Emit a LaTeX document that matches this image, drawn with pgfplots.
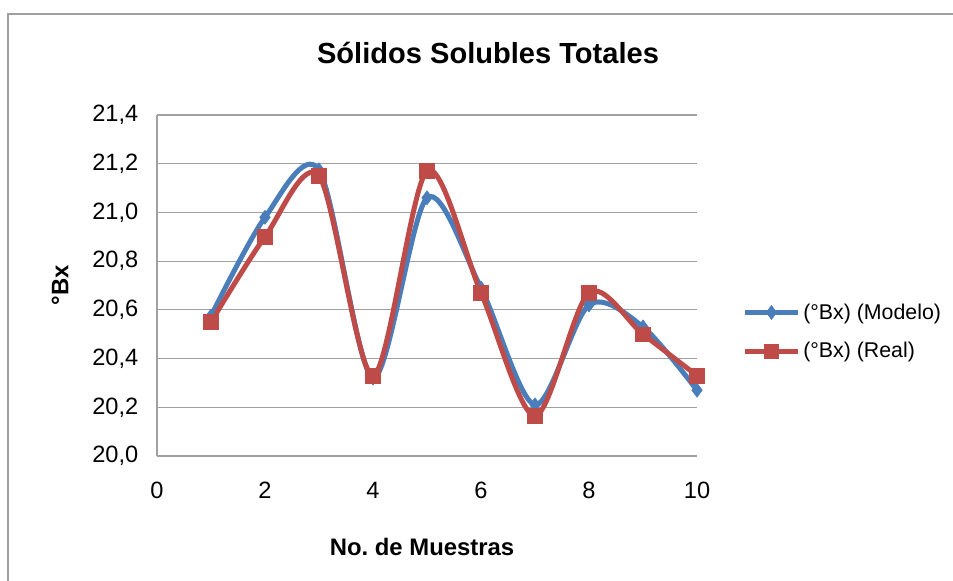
\documentclass[border=0pt]{standalone}
\usepackage{fontspec}
\setmainfont{Liberation Sans}
\usepackage{pgfplots}
\pgfplotsset{compat=1.18}
\definecolor{exblue}{HTML}{4A7EBB}
\definecolor{exred}{HTML}{BE4B48}
\definecolor{gridgray}{HTML}{A0A0A0}
\frenchspacing
\begin{document}
\begin{tikzpicture}[x=0.75pt,y=0.75pt]
\useasboundingbox (0,0) rectangle (953,581);
\draw[gridgray, line width=0.9pt] (8,0) -- (8,567) -- (953,567);
\begin{axis}[
  at={(117.75pt,93.75pt)}, anchor=south west,
  scale only axis, width=405pt, height=255.75pt,
  xmin=0, xmax=10, ymin=20, ymax=21.4,
  xtick={0,2,...,10},
  ytick={20,20.2,...,21.4},
  axis lines*=left,
  axis line style={gridgray, line width=0.9pt},
  ymajorgrids, grid style={gridgray, line width=0.9pt},
  tick style={draw=none},
  /pgf/number format/assume math mode=true,
  /pgf/number format/use comma,
  yticklabel style={/pgf/number format/fixed, /pgf/number format/fixed zerofill, /pgf/number format/precision=1, font=\fontsize{17.7}{20}\selectfont, xshift=-10.5pt},
  xticklabel style={font=\fontsize{17.7}{20}\selectfont, yshift=-16pt},
  legend style={at={(1.076,0.364)}, anchor=west, draw=none, fill=none,
    font=\fontsize{16}{18}\selectfont, row sep=12pt,
    /tikz/every even column/.append style={column sep=0pt}},
  legend cell align=left,
  legend image code/.code={
    \draw[#1, mark repeat=2, mark phase=2] plot coordinates {(0pt,0pt) (20pt,0pt) (40pt,0pt)};},
  clip=false,
]
\addplot[exblue, line width=3.75pt, smooth, mark=diamond*, mark size=5.2pt,
  mark options={solid, fill=exblue, line width=0.5pt}] coordinates {
  (1,20.575) (2,20.98) (3,21.175) (4,20.32) (5,21.06)
  (6,20.69) (7,20.21) (8,20.62) (9,20.53) (10,20.27)};
\addlegendentry{(°Bx) (Modelo)}
\addplot[exred, line width=3.75pt, smooth, mark=square*, mark size=5.5pt,
  mark options={solid, fill=exred, line width=0.5pt}] coordinates {
  (1,20.55) (2,20.90) (3,21.15) (4,20.33) (5,21.17)
  (6,20.67) (7,20.165) (8,20.67) (9,20.50) (10,20.33)};
\addlegendentry{(°Bx) (Real)}
\end{axis}
\node[font=\bfseries\fontsize{21.8}{24}\selectfont] at (488,528) {Sólidos Solubles Totales};
\node[font=\bfseries\fontsize{17.9}{20}\selectfont, rotate=90] at (60,296) {°Bx};
\node[font=\bfseries\fontsize{17.9}{20}\selectfont] at (422,34) {No. de Muestras};
\end{tikzpicture}
\end{document}
